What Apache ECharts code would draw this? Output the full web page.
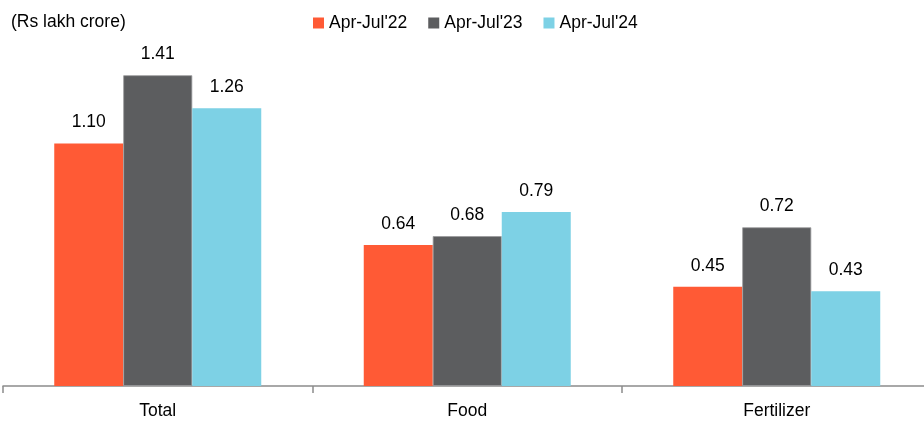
<!DOCTYPE html>
<html>
<head>
<meta charset="utf-8">
<script src="https://cdn.jsdelivr.net/npm/echarts@6/dist/echarts.min.js"></script>
<style>
  html, body { margin: 0; padding: 0; background: #fff; }
  #chart { width: 924px; height: 423px; }
</style>
</head>
<body>
<div id="chart"></div>
<script>
// Subsidy outgo by category (Rs lakh crore)
const categories = ['Total', 'Food', 'Fertilizer'];
const seriesNames = ["Apr-Jul'22", "Apr-Jul'23", "Apr-Jul'24"];
const apr22 = [1.10, 0.64, 0.45];
const apr23 = [1.41, 0.68, 0.72];
const apr24 = [1.26, 0.79, 0.43];

const FONT = '"Liberation Sans", Arial, sans-serif';
const colors = ['#FF5A35', '#5C5D5F', '#7DD1E5'];
const borders = [null, '#9A9B9C', null];

const values = [apr22, apr23, apr24];

const chart = echarts.init(document.getElementById('chart'));
chart.setOption({
  animation: false,
  textStyle: { fontFamily: FONT },
  title: {
    text: '(Rs lakh crore)',
    left: 6,
    top: 8,
    textStyle: { fontFamily: FONT, fontSize: 17.5, fontWeight: 'normal', color: '#000' }
  },
  legend: {
    data: seriesNames,
    left: 308,
    top: 9,
    itemWidth: 11,
    itemHeight: 11,
    itemGap: 21,
    icon: 'rect',
    itemStyle: { borderWidth: 0 },
    textStyle: { fontFamily: FONT, fontSize: 17.5, color: '#000' }
  },
  // the axis runs past the right edge of the canvas
  grid: { left: 3, width: 928.5, top: 33.4, bottom: 37, containLabel: false, outerBoundsMode: 'none' },
  xAxis: {
    type: 'category',
    data: categories,
    axisLine: { lineStyle: { color: '#8C8C8C', width: 1.5 } },
    axisTick: { show: true, length: 7, lineStyle: { color: '#8C8C8C', width: 1.5 } },
    axisLabel: { fontFamily: FONT, fontSize: 17.5, color: '#000', margin: 16 }
  },
  yAxis: {
    type: 'value',
    min: 0,
    max: 1.6,
    show: false,
    splitLine: { show: false }
  },
  series: seriesNames.map((name, i) => ({
    name: name,
    type: 'bar',
    data: values[i],
    barWidth: 69,
    barGap: '0%',
    itemStyle: borders[i]
      ? { color: colors[i], borderColor: borders[i], borderWidth: 0.8 }
      : { color: colors[i] },
    label: {
      show: true,
      position: 'top',
      distance: 12,
      fontFamily: FONT,
      fontSize: 17.5,
      color: '#000',
      formatter: p => p.value.toFixed(2)
    }
  }))
});
</script>
</body>
</html>
